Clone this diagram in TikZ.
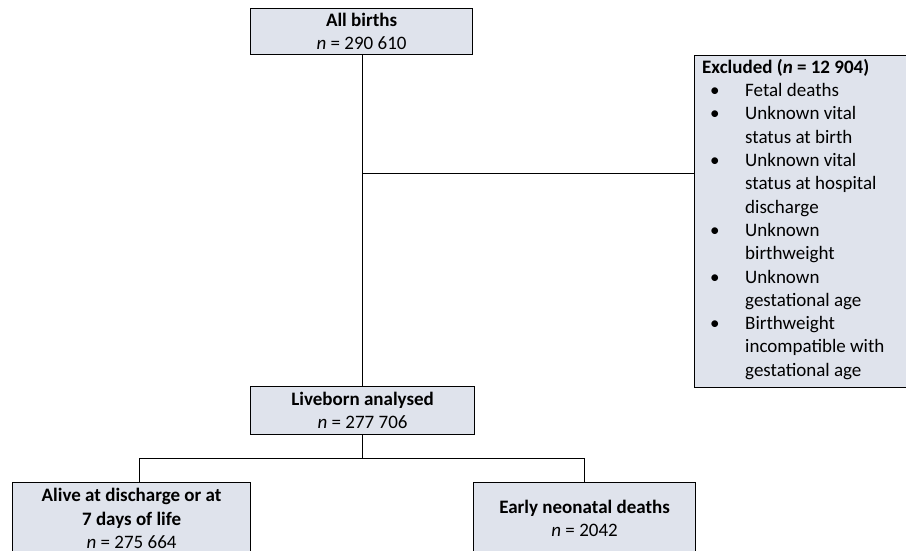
\documentclass[tikz,border=0pt]{standalone}
\usepackage{fontspec}
\setmainfont{Carlito}
\definecolor{boxfill}{RGB}{223,227,236}
\newcommand\exbul{\hspace*{8pt}\makebox[35pt][l]{\textbullet}}
\newcommand\exind{\hspace*{43pt}}
\begin{document}
\begin{tikzpicture}[x=1pt,y=-1pt,
  box/.style={draw=black, line width=1.2pt, fill=boxfill, rectangle, inner sep=0pt,
    anchor=north west, align=center, font=\fontsize{19}{23.3}\selectfont},
  conn/.style={draw=black, line width=1pt},
  txt/.style={inner sep=0pt, align=left, anchor=north west, font=\fontsize{19}{23.3}\selectfont}]
\clip (0,0) rectangle (906,550);
\fill[white] (0,0) rectangle (906,550);
% connectors
\coordinate (j1) at (362,173);
\coordinate (l1) at (139,458);
\coordinate (r1) at (584,458);
% boxes
\node[box, minimum width=222pt, minimum height=46pt] (all) at (250,8)
  {\textbf{All births}\\\textit{n} = 290 610};
\node[box, minimum width=230pt, minimum height=332pt] (excl) at (694,55) {};
\node[box, minimum width=224pt, minimum height=48pt] (live) at (250,386)
  {\textbf{Liveborn analysed}\\\textit{n} = 277 706};
\node[box, minimum width=238pt, minimum height=72pt] (alive) at (12,482)
  {\textbf{Alive at discharge or at}\\\textbf{7 days of life}\\\textit{n} = 275 664};
\node[box, minimum width=222pt, minimum height=72pt] (early) at (473,482)
  {\textbf{Early neonatal deaths}\\\textit{n} = 2042};
\node[txt] (excltxt) at (702,59) {\textbf{Excluded (\textit{n} = 12 904)}\\
  \exbul Fetal deaths\\
  \exbul Unknown vital\\
  \exind status at birth\\
  \exbul Unknown vital\\
  \exind status at hospital\\
  \exind discharge\\
  \exbul Unknown\\
  \exind birthweight\\
  \exbul Unknown\\
  \exind gestational age\\
  \exbul Birthweight\\
  \exind incompatible with\\
  \exind gestational age};
\draw[conn] (all.south -| j1) -- (live.north -| j1);
\draw[conn] (j1) -- (j1 -| excl.west);
\draw[conn] (live.south -| j1) -- (j1 |- l1);
\draw[conn] (l1) -- (r1);
\draw[conn] (l1) -- (l1 |- alive.north);
\draw[conn] (r1) -- (r1 |- early.north);
\end{tikzpicture}
\end{document}
